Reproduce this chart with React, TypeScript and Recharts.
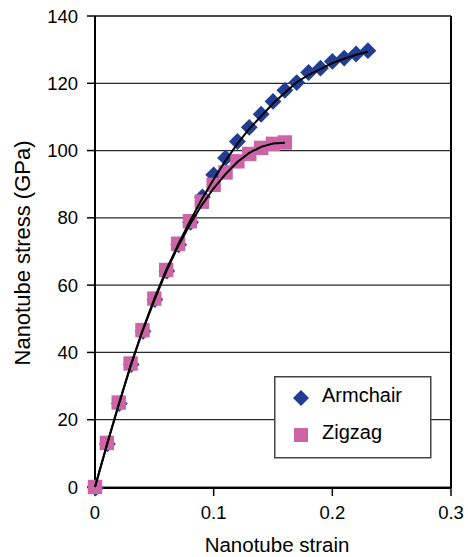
import React from 'react';
import { ComposedChart, Scatter, XAxis, YAxis, CartesianGrid, ReferenceLine, Legend } from 'recharts';

const strainArmchair = [0.0005, 0.0105, 0.0205, 0.0305, 0.0405, 0.0505, 0.0605, 0.0705, 0.0805, 0.0905, 0.1, 0.11, 0.12, 0.13, 0.14, 0.15, 0.16, 0.17, 0.18, 0.19, 0.2, 0.21, 0.22, 0.23];
const stressArmchair = [-0.3, 12.8, 24.8, 36.4, 46.3, 55.7, 64.2, 72, 78.7, 86.2, 92.8, 97.8, 102.7, 106.9, 110.8, 114.6, 117.9, 120.2, 123.2, 124.5, 126.5, 127.5, 128.7, 129.7];
const fitArmchair = [0, 12.5, 24.5, 36, 46.5, 56, 64.5, 72, 79, 85.5, 91.5, 97, 102, 106.5, 110.2, 114, 117.2, 120.3, 122.5, 124.2, 126, 127.3, 128.5, 129.4];

const strainZigzag = [0, 0.01, 0.02, 0.03, 0.04, 0.05, 0.06, 0.07, 0.08, 0.09, 0.1, 0.11, 0.12, 0.13, 0.14, 0.15, 0.16];
const stressZigzag = [0, 13.1, 25.1, 36.7, 46.6, 56, 64.5, 72.3, 79, 84.8, 89.8, 93.5, 96.8, 99, 100.8, 102, 102.4];
const fitZigzag = [0, 12.5, 24.5, 36, 46.3, 55.5, 64, 71.5, 78, 83.8, 88.8, 93, 96.6, 99.3, 101.1, 102.1, 102.3];

const xTicks = [0, 0.1, 0.2, 0.3];
const yTicks = [0, 20, 40, 60, 80, 100, 120, 140];

const seriesNames = ['Armchair', 'Zigzag'];

const BLUE = '#213E92';
const PINK = '#CD64A6';
const FONT = '"Liberation Sans", Arial, Helvetica, sans-serif';

const armchairPoints = strainArmchair.map((x, i) => ({ x, y: stressArmchair[i] }));
const zigzagPoints = strainZigzag.map((x, i) => ({ x, y: stressZigzag[i] }));
const fitXArmchair = strainArmchair.map((x) => Math.round(x * 100) / 100);
const armchairFit = fitXArmchair.map((x, i) => ({ x, y: fitArmchair[i] }));
const zigzagFit = strainZigzag.map((x, i) => ({ x, y: fitZigzag[i] }));

const Diamond = (props: any) => {
  const { cx, cy } = props;
  const r = 8.4;
  return <path d={`M${cx},${cy - r}L${cx + r},${cy}L${cx},${cy + r}L${cx - r},${cy}Z`} fill={BLUE} />;
};

const Square = (props: any) => {
  const { cx, cy } = props;
  const s = 14.4;
  return <rect x={cx - s / 2} y={cy - s / 2} width={s} height={s} fill={PINK} />;
};

const NoShape = () => <g />;

const LegendBox = () => (
  <svg width={158} height={83} style={{ display: 'block' }}>
    <rect x={0.75} y={0.75} width={156} height={81} fill="#fff" stroke="#444" strokeWidth={1.5} />
    <path d="M27,14L35,22L27,30L19,22Z" fill={BLUE} />
    <text x={48} y={25.7} fontSize={20} fontFamily={FONT} fill="#000">{seriesNames[0]}</text>
    <rect x={20} y={52} width={14} height={14} fill={PINK} />
    <text x={48} y={63} fontSize={20} fontFamily={FONT} fill="#000">{seriesNames[1]}</text>
  </svg>
);

const YTitle = (props: any) => {
  const vb = props.viewBox || { x: 0, y: 16, width: 95, height: 472 };
  const x = vb.x + 29.5;
  const y = vb.y + vb.height / 2 + 1;
  return (
    <text x={x} y={y} transform={`rotate(-90, ${x}, ${y})`} textAnchor="middle" fontSize={22} fontFamily={FONT} fill="#000">
      Nanotube stress (GPa)
    </text>
  );
};

const XTitle = (props: any) => {
  const vb = props.viewBox || { x: 95, y: 488, width: 356, height: 69 };
  const x = vb.x + vb.width / 2 + 4;
  const y = vb.y + 63.5;
  return (
    <text x={x} y={y} textAnchor="middle" fontSize={20.5} fontFamily={FONT} fill="#000">
      Nanotube strain
    </text>
  );
};

export default function App() {
  return (
    <div style={{ position: 'absolute', left: 0, top: 0, width: 468, height: 557, background: '#fff' }}>
      <ComposedChart width={468} height={557} margin={{ top: 16, right: 17, bottom: 0, left: 0 }}>
        <CartesianGrid horizontal={true} vertical={false} stroke="#2a2a2a" strokeWidth={1.2} />
        <XAxis
          type="number"
          dataKey="x"
          domain={[0, 0.3]}
          ticks={xTicks}
          height={69}
          tickSize={8}
          tickMargin={10}
          axisLine={{ stroke: '#000', strokeWidth: 2 }}
          tickLine={{ stroke: '#000', strokeWidth: 1.5 }}
          tick={{ fontSize: 18.5, fontFamily: FONT, fill: '#000' }}
          label={XTitle}
        />
        <YAxis
          type="number"
          dataKey="y"
          domain={[0, 140]}
          ticks={yTicks}
          width={95}
          tickSize={8}
          tickMargin={9}
          axisLine={{ stroke: '#000', strokeWidth: 2 }}
          tickLine={{ stroke: '#000', strokeWidth: 1.5 }}
          tick={{ fontSize: 18.5, fontFamily: FONT, fill: '#000' }}
          label={YTitle}
        />
        <ReferenceLine x={0.3} stroke="#000" strokeWidth={2} />
        <ReferenceLine y={140} stroke="#333" strokeWidth={1.5} />
        <Legend
          layout="horizontal"
          verticalAlign="middle"
          align="center"
          content={LegendBox}
          wrapperStyle={{ position: 'absolute', left: 274, top: 376, width: 158, height: 83 }}
        />
        <Scatter name={seriesNames[0]} data={armchairPoints} shape={Diamond} isAnimationActive={false} />
        <Scatter name={seriesNames[1]} data={zigzagPoints} shape={Square} isAnimationActive={false} />
        <Scatter
          name="Armchair fit"
          data={armchairFit}
          shape={NoShape}
          line={{ stroke: '#000', strokeWidth: 2 }}
          lineType="joint"
          legendType="none"
          isAnimationActive={false}
        />
        <Scatter
          name="Zigzag fit"
          data={zigzagFit}
          shape={NoShape}
          line={{ stroke: '#000', strokeWidth: 2 }}
          lineType="joint"
          legendType="none"
          isAnimationActive={false}
        />
      </ComposedChart>
    </div>
  );
}
